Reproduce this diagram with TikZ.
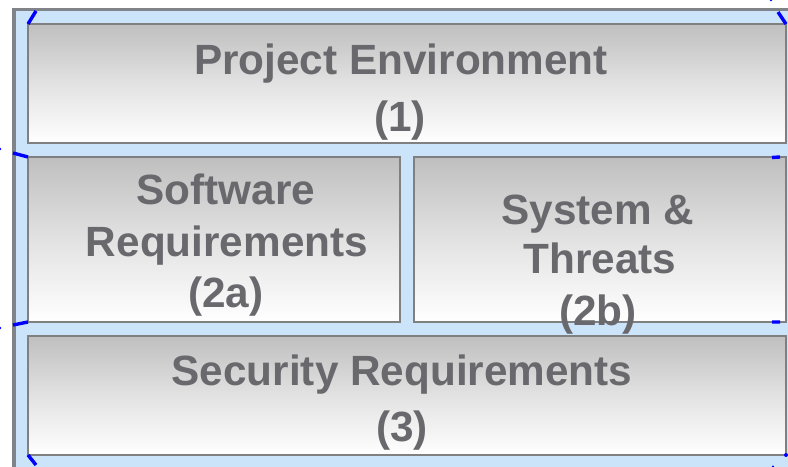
\documentclass[tikz,border=0pt]{standalone}
\usepackage{fontspec}
\setmainfont{Liberation Sans}
\definecolor{framegray}{RGB}{128,132,136}
\definecolor{framefill}{RGB}{204,228,250}
\definecolor{boxline}{RGB}{128,128,128}
\definecolor{gtop}{RGB}{191,191,191}
\definecolor{txt}{RGB}{105,104,109}
\definecolor{tick}{RGB}{0,0,255}
\tikzset{
  panel/.style={draw=boxline, line width=1.5bp, top color=gtop, bottom color=white, middle color=gtop!45!white, inner sep=0pt, outer sep=0pt},
  lbl/.style={text=txt, font=\fontsize{42.3bp}{50bp}\selectfont\bfseries, anchor=base, inner sep=0pt},
  tickmark/.style={draw=tick, line width=3.4bp},
}
\begin{document}
\begin{tikzpicture}[x=1bp, y=-1bp]
\useasboundingbox (0,0) rectangle (788,467);
% outer frame
\draw[draw=framegray, fill=framefill, line width=3.5bp] (14,9.5) rectangle (810,490);
% panels
\node[panel, minimum width=758bp, minimum height=119bp] (p1) at (407,83.5) {};
\node[panel, minimum width=372bp, minimum height=165bp] (p2a) at (214,239.5) {};
\node[panel, minimum width=372bp, minimum height=165bp] (p2b) at (600,239.5) {};
\node[panel, minimum width=758bp, minimum height=119bp] (p3) at (407,395.5) {};
% labels
\node[lbl] (t1a) at (401,75) {Project Environment};
\node[lbl] (t1b) at (400,132) {(1)};
\node[lbl] (t2a1) at (226,205) {Software};
\node[lbl] (t2a2) at (227,257) {Requirements};
\node[lbl] (t2a3) at (226,308) {(2a)};
\node[lbl] (t2b1) at (598,225) {System \&};
\node[lbl] (t2b2) at (600,274) {Threats};
\node[lbl] (t2b3) at (598,326) {(2b)};
\node[lbl] (t3a) at (402,386) {Security Requirements};
\node[lbl] (t3b) at (402,441) {(3)};
% blue handle marks
\coordinate (h1) at (36,11);
\draw[tickmark] (p1.north west) -- (h1);
\coordinate (h2) at (778,12);
\draw[tickmark] (p1.north east) -- (h2);
\coordinate (h3) at (13,153);
\draw[tickmark] (p2a.north west) -- (h3);
\coordinate (h4) at (772,157.5);
\draw[tickmark] (p2b.north east) ++(-6,0) -- (h4);
\coordinate (h5) at (13,325);
\draw[tickmark] (p2a.south west) -- (h5);
\coordinate (h6) at (772,322);
\draw[tickmark] (p2b.south east) ++(-6,0) -- (h6);
\coordinate (h7) at (36,465);
\draw[tickmark] (p3.south west) -- (h7);
\fill[tick] (p3.south east) circle (2bp);
\fill[tick] (0,149) circle (1.4bp);
\fill[tick] (0,328) circle (1.4bp);
\fill[tick] (771,0) circle (1.4bp);
\fill[tick] (773,466.5) circle (1.2bp);
\end{tikzpicture}
\end{document}
